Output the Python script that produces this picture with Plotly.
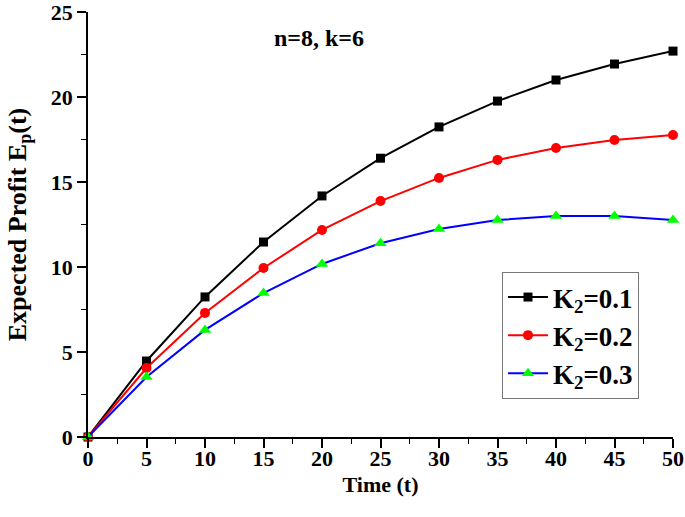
import plotly.graph_objects as go

time = [0, 5, 10, 15, 20, 25, 30, 35, 40, 45, 50]
k2_01 = [0, 4.47, 8.24, 11.47, 14.18, 16.4, 18.24, 19.76, 21.0, 21.94, 22.7]
k2_02 = [0, 4.06, 7.3, 9.94, 12.18, 13.88, 15.24, 16.3, 17.0, 17.47, 17.76]
k2_03 = [0, 3.53, 6.3, 8.47, 10.18, 11.4, 12.24, 12.76, 13.0, 13.0, 12.76]
names = ["K<sub>2</sub>=0.1", "K<sub>2</sub>=0.2", "K<sub>2</sub>=0.3"]

FONT = "Liberation Serif"

fig = go.Figure()
fig.add_trace(go.Scatter(x=time, y=k2_01, name=names[0], mode="lines+markers",
                         legendgroup="a",
                         line=dict(color="black", width=2),
                         marker=dict(symbol="square", size=9, color="black"),
                         cliponaxis=False))
fig.add_trace(go.Scatter(x=time, y=k2_02, name=names[1], mode="lines+markers",
                         legendgroup="b",
                         line=dict(color="#ff0000", width=2),
                         marker=dict(symbol="circle", size=10, color="#ff0000"),
                         cliponaxis=False))
fig.add_trace(go.Scatter(x=time, y=k2_03, name=names[2], mode="lines+markers",
                         legendgroup="c",
                         line=dict(color="#0000ff", width=2),
                         marker=dict(symbol="triangle-up", size=11, color="#00ff00"),
                         cliponaxis=False))

axis_common = dict(
    showline=True, linecolor="black", linewidth=1.5, mirror=False,
    ticks="outside", ticklen=9, tickwidth=1.5, tickcolor="black",
    showgrid=False, zeroline=False, automargin=False,
    ticklabeloverflow="allow",
    tickfont=dict(family=FONT, size=22, color="black", weight="bold"),
    minor=dict(ticks="outside", ticklen=5, tickwidth=1.2, tickcolor="black", showgrid=False),
)

fig.update_xaxes(range=[0, 50], tickvals=list(range(0, 51, 5)),
                 minor_dtick=2.5, ticklabelstandoff=-8,
                 title=dict(text="Time (t)", font=dict(family=FONT, size=22, color="black", weight="bold"), standoff=6),
                 **axis_common)
fig.update_yaxes(range=[0, 25], tickvals=list(range(0, 26, 5)),
                 minor_dtick=2.5,
                 title=dict(text="Expected Profit E<sub>p</sub>(t)", font=dict(family=FONT, size=26, color="black", weight="bold"), standoff=17),
                 **axis_common)

fig.add_annotation(text="n=8, k=6", x=(319 - 88) / 585, y=(437 - 38) / 425,
                   xref="paper", yref="paper",
                   xanchor="center", yanchor="middle", showarrow=False,
                   font=dict(family=FONT, size=24, color="black", weight="bold"))

fig.update_layout(
    width=685, height=517,
    margin=dict(l=88, r=12, t=12, b=80, autoexpand=False),
    paper_bgcolor="white", plot_bgcolor="white",
    showlegend=True,
    legend=dict(x=(502 - 88) / 585, y=(437 - 272) / 425, xanchor="left", yanchor="top",
                bordercolor="#777777", borderwidth=1, bgcolor="white",
                font=dict(family=FONT, size=27, color="black", weight="bold"),
                itemwidth=40, tracegroupgap=0),
)

fig.write_html("out.html", config={"displayModeBar": False},
               post_script="document.body.style.margin='0';document.body.style.overflow='hidden';")
